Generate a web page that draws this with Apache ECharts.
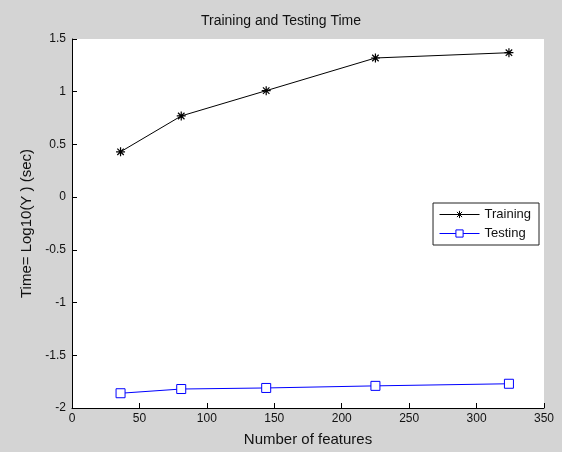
<!DOCTYPE html>
<html><head><meta charset="utf-8">
<script src="https://cdn.jsdelivr.net/npm/echarts@6/dist/echarts.min.js"></script>
<style>html,body{margin:0;padding:0;background:#d4d4d4}#c{width:562px;height:452px}</style>
</head><body><div id="c"></div>
<script>
const features = [36, 81, 144, 225, 324];
const trainingTime = [0.43, 0.77, 1.01, 1.32, 1.37];
const testingTime = [-1.86, -1.82, -1.81, -1.79, -1.77];
const xTicks = [0, 50, 100, 150, 200, 250, 300, 350];
const yTicks = [-2, -1.5, -1, -0.5, 0, 0.5, 1, 1.5];

const star = 'path://M0,-5L0,5M-5,0L5,0M-3.6,-3.6L3.6,3.6M-3.6,3.6L3.6,-3.6';
const font = 'Liberation Sans, Arial, sans-serif';
const chart = echarts.init(document.getElementById('c'));
chart.setOption({
  backgroundColor: '#d4d4d4',
  animation: false,
  title: {text: 'Training and Testing Time', left: 'center', top: 9,
    textStyle: {fontFamily: font, fontSize: 14, fontWeight: 'normal', color: '#111'}},
  grid: {left: 72, right: 18, top: 39, bottom: 43, show: true, backgroundColor: '#fff', borderWidth: 0},
  legend: {right: 23, top: 203, orient: 'vertical', backgroundColor: '#fff', borderColor: '#222', borderWidth: 1,
    padding: [5, 8, 5, 6], itemGap: 6, itemWidth: 40, itemHeight: 9,
    lineStyle: {width: 1}, itemStyle: {borderWidth: 1},
    textStyle: {fontFamily: font, fontSize: 13, color: '#111'},
    data: ['Training', 'Testing']},
  xAxis: {type: 'value', min: xTicks[0], max: xTicks[xTicks.length-1], interval: 50,
    name: 'Number of features', nameLocation: 'middle', nameGap: 24,
    nameTextStyle: {fontFamily: font, fontSize: 15, color: '#111'},
    axisLine: {onZero: false, lineStyle: {color: '#000'}}, axisTick: {inside: true, length: 5, lineStyle: {color: '#000'}},
    axisLabel: {fontFamily: font, fontSize: 12, color: '#111', margin: 5}, splitLine: {show: false}},
  yAxis: {type: 'value', min: yTicks[0], max: yTicks[yTicks.length-1], interval: 0.5,
    name: 'Time= Log10(Y ) (sec)', nameLocation: 'middle', nameGap: 34,
    nameTextStyle: {fontFamily: font, fontSize: 15, color: '#111'},
    axisLine: {onZero: false, lineStyle: {color: '#000'}}, axisTick: {inside: true, length: 5, lineStyle: {color: '#000'}},
    axisLabel: {fontFamily: font, fontSize: 12, color: '#111', margin: 6}, splitLine: {show: false}},
  series: [
    {name: 'Training', type: 'line', data: features.map((x, i) => [x, trainingTime[i]]),
      symbol: star, symbolSize: 9, lineStyle: {color: '#000', width: 1},
      itemStyle: {color: 'none', borderColor: '#000', borderWidth: 1.2}},
    {name: 'Testing', type: 'line', data: features.map((x, i) => [x, testingTime[i]]),
      symbol: 'rect', symbolSize: 9, lineStyle: {color: '#0000ff', width: 1},
      itemStyle: {color: '#fff', borderColor: '#0000ff', borderWidth: 1}}
  ]
});
</script></body></html>
